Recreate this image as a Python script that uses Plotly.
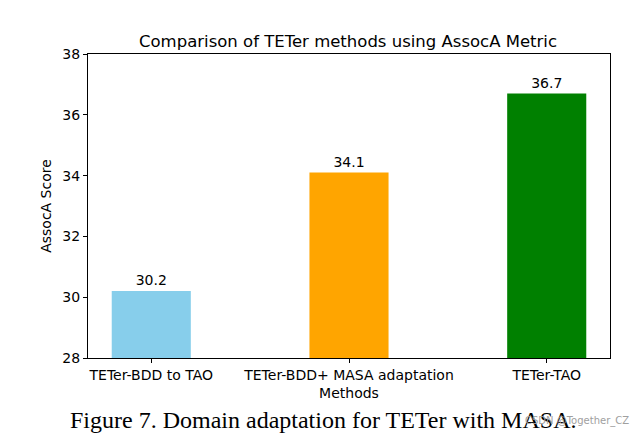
import plotly.graph_objects as go

methods = ["TETer-BDD to TAO", "TETer-BDD+ MASA adaptation", "TETer-TAO"]
scores = [30.2, 34.1, 36.7]
colors = ["skyblue", "orange", "green"]
y_ticks = [28, 30, 32, 34, 36, 38]

x_pos = list(range(len(methods)))

# page has an 8px body margin, so figure coordinates are page coordinates minus 8
OFF = 8
W, H = 640 - OFF, 435 - OFF
L, T = 88 - OFF, 54 - OFF
PW, PH = 522, 304

fig = go.Figure()
fig.add_trace(go.Bar(
    x=x_pos, y=scores, width=0.4,
    marker=dict(color=colors, line=dict(width=0)),
    text=[f"{v:.1f}" for v in scores], textposition="outside",
    textfont=dict(family="DejaVu Sans", size=14, color="black"),
    cliponaxis=False,
))

axis_common = dict(
    showline=True, linecolor="black", linewidth=1, mirror=True,
    ticks="outside", ticklen=4, tickcolor="black", tickwidth=1,
    showgrid=False, zeroline=False,
    tickfont=dict(family="DejaVu Sans", size=14, color="black"),
    title_font=dict(family="DejaVu Sans", size=14, color="black"),
)

fig.update_layout(
    width=W, height=H,
    margin=dict(l=L, r=W - L - PW, t=T, b=H - T - PH),
    paper_bgcolor="white", plot_bgcolor="white",
    showlegend=False,
    title=dict(text="Comparison of TETer methods using AssocA Metric",
               font=dict(family="DejaVu Sans", size=16.5, color="black"),
               x=(348 - OFF) / W, xanchor="center", xref="container",
               y=1 - (41 - OFF) / H, yanchor="middle"),
    xaxis=dict(axis_common, range=[-0.32, 2.32], tickvals=x_pos, ticktext=methods,
               title=dict(text="Methods", standoff=6)),
    yaxis=dict(axis_common, range=[28, 38], tickvals=y_ticks,
               title=dict(text="AssocA Score", standoff=7)),
)

fig.add_annotation(text="Figure 7. Domain adaptation for TETer with MASA.",
                   xref="paper", yref="paper", x=(323 - 88) / PW, y=-(420 - 358) / PH,
                   xanchor="center", yanchor="middle", showarrow=False,
                   font=dict(family="Liberation Serif", size=24, color="black"))
fig.add_annotation(text="CSDN @Together_CZ",
                   xref="paper", yref="paper", x=(631 - 88) / PW, y=-(421 - 358) / PH,
                   xanchor="right", yanchor="middle", showarrow=False,
                   font=dict(family="DejaVu Sans", size=10, color="#a0a0a0"))

fig.write_html("out.html")
